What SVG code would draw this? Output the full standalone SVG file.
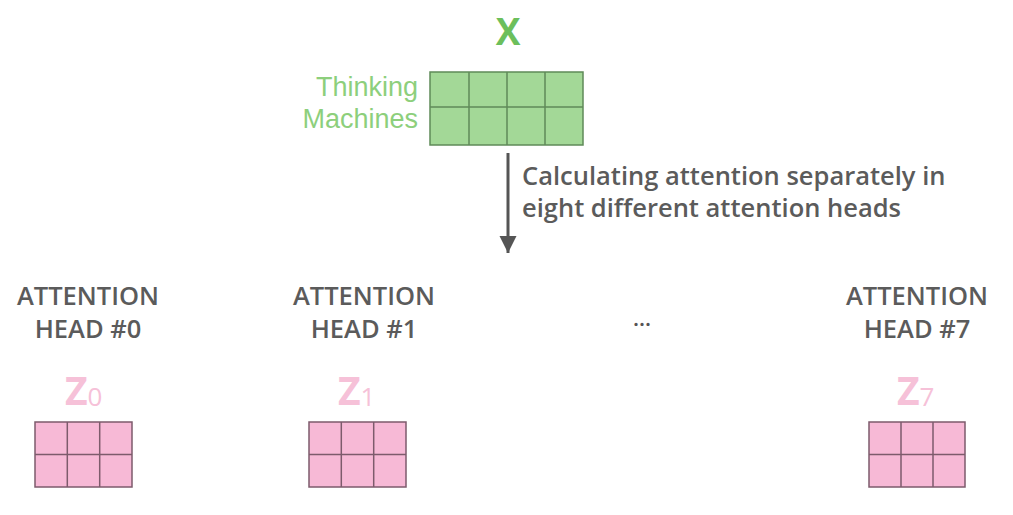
<svg xmlns="http://www.w3.org/2000/svg" width="1013" height="515" viewBox="0 0 1013 515">
<defs>
<style>
.g{fill:#a3d897;stroke:#5f8a58;stroke-width:1.5}
.p{fill:#f7b9d6;stroke:#7d5b6c;stroke-width:1.5}
.gl{stroke:#5f8a58;stroke-width:1.5}
.pl{stroke:#7d5b6c;stroke-width:1.5}
.hd{font-family:"Open Sans",sans-serif;font-weight:600;font-size:25.5px;fill:#5b5b5b;text-anchor:middle}
.z{font-family:"Open Sans",sans-serif;font-weight:700;font-size:39px;fill:#f6c1d8}
.zs{font-family:"Open Sans",sans-serif;font-weight:400;font-size:26px;fill:#f6c1d8}
.lbl{font-family:"Liberation Sans",Arial,sans-serif;font-size:27px;fill:#8dcf7c;text-anchor:end}
</style>
<marker id="ah" viewBox="0 0 10 10" refX="10" refY="5" markerWidth="17" markerHeight="20" markerUnits="userSpaceOnUse" orient="auto">
<path d="M0,0 L10,5 L0,10 Z" fill="#555"/>
</marker>
</defs>
<rect width="1013" height="515" fill="#fff"/>
<g id="input">
<text x="508" y="45" font-family="Open Sans,sans-serif" font-weight="700" font-size="37" fill="#6cbf5c" text-anchor="middle">X</text>
<text class="lbl" x="418" y="95.5">Thinking</text>
<text class="lbl" x="418" y="127.5">Machines</text>
<rect class="g" x="430" y="72" width="153" height="73"/>
<line class="gl" x1="469" y1="72" x2="469" y2="145"/>
<line class="gl" x1="507" y1="72" x2="507" y2="145"/>
<line class="gl" x1="545" y1="72" x2="545" y2="145"/>
<line class="gl" x1="430" y1="107" x2="583" y2="107"/>
</g>
<g id="connectors">
<line x1="508" y1="153" x2="508" y2="253" stroke="#555" stroke-width="3" marker-end="url(#ah)"/>
</g>
<g id="caption">
<text font-family="Open Sans,sans-serif" font-weight="600" font-size="25.5" fill="#5b5b5b"><tspan x="522" y="185">Calculating attention separately in</tspan><tspan x="522" y="217">eight different attention heads</tspan></text>
</g>
<g id="head0">
<text class="hd" x="88" y="305">ATTENTION</text>
<text class="hd" x="88" y="338">HEAD #0</text>
<text x="65" y="405"><tspan class="z">Z</tspan><tspan class="zs" dy="1">0</tspan></text>
<rect class="p" x="35" y="422" width="97" height="65"/>
<line class="pl" x1="67.3" y1="422" x2="67.3" y2="487"/>
<line class="pl" x1="99.7" y1="422" x2="99.7" y2="487"/>
<line class="pl" x1="35" y1="454.5" x2="132" y2="454.5"/>
</g>
<g id="head1">
<text class="hd" x="364" y="305">ATTENTION</text>
<text class="hd" x="364" y="338">HEAD #1</text>
<text x="338" y="405"><tspan class="z">Z</tspan><tspan class="zs" dy="1">1</tspan></text>
<rect class="p" x="309" y="422" width="97" height="65"/>
<line class="pl" x1="341.3" y1="422" x2="341.3" y2="487"/>
<line class="pl" x1="373.7" y1="422" x2="373.7" y2="487"/>
<line class="pl" x1="309" y1="454.5" x2="406" y2="454.5"/>
</g>
<g id="dots">
<text x="642" y="326" font-family="Open Sans,sans-serif" font-weight="600" font-size="22" fill="#555" text-anchor="middle">...</text>
</g>
<g id="head7">
<text class="hd" x="917" y="305">ATTENTION</text>
<text class="hd" x="917" y="338">HEAD #7</text>
<text x="897" y="405"><tspan class="z">Z</tspan><tspan class="zs" dy="1">7</tspan></text>
<rect class="p" x="869" y="422" width="96" height="65"/>
<line class="pl" x1="901" y1="422" x2="901" y2="487"/>
<line class="pl" x1="933" y1="422" x2="933" y2="487"/>
<line class="pl" x1="869" y1="454.5" x2="965" y2="454.5"/>
</g>
</svg>
